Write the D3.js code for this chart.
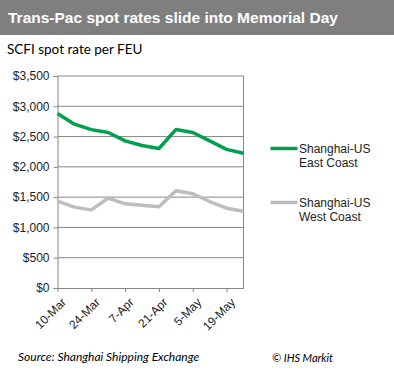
<!DOCTYPE html>
<html>
<head>
<meta charset="utf-8">
<script src="https://cdn.jsdelivr.net/npm/d3@7"></script>
<style>
    body { margin: 0; background: #fff; }
    svg { display: block; }
</style>
</head>
<body>
<svg id="chart" width="394" height="371"></svg>
<script>
// weekly SCFI readings, 10-Mar to 26-May
let weeks = ["10-Mar", "17-Mar", "24-Mar", "31-Mar", "7-Apr", "14-Apr", "21-Apr", "28-Apr", "5-May", "12-May", "19-May", "26-May"];
let tickWeeks = ["10-Mar", "24-Mar", "7-Apr", "21-Apr", "5-May", "19-May"];
let eastCoast = [2880, 2705, 2615, 2567, 2430, 2352, 2303, 2616, 2567, 2428, 2288, 2225];
let westCoast = [1434, 1335, 1290, 1483, 1390, 1368, 1340, 1604, 1555, 1428, 1318, 1268];
let yTicks = [0, 500, 1000, 1500, 2000, 2500, 3000, 3500];
let seriesNames = [["Shanghai-US", "East Coast"], ["Shanghai-US", "West Coast"]];
let seriesColors = ["#00a04e", "#bdbdbd"];

let svg = d3.select("#chart");
let font = "Arial, 'Liberation Sans', sans-serif";

// title banner
svg.append("rect")
    .attr("x", 0).attr("y", 0)
    .attr("width", 394).attr("height", 35)
    .attr("fill", "#7f7f7f");

svg.append("text")
    .text("Trans-Pac spot rates slide into Memorial Day")
    .attr("x", 8).attr("y", 23)
    .attr("font-family", font)
    .attr("font-weight", "bold")
    .attr("font-size", "15.5px")
    .attr("fill", "#fff");

svg.append("text")
    .text("SCFI spot rate per FEU")
    .attr("x", 7).attr("y", 54)
    .attr("font-family", "Lato, 'Open Sans', sans-serif")
    .attr("font-size", "13.5px")
    .attr("fill", "#000");

let plot = {left: 57.5, right: 243.5, top: 76, bottom: 288};

let x = d3.scalePoint()
    .domain(weeks)
    .range([plot.left, plot.right]);

let y = d3.scaleLinear()
    .domain([0, 3500])
    .range([plot.bottom, plot.top]);

// gridlines
svg.append("g")
    .selectAll("line")
    .data(yTicks.slice(1))
    .enter()
    .append("line")
    .attr("x1", plot.left).attr("x2", plot.right)
    .attr("y1", d => y(d)).attr("y2", d => y(d))
    .attr("stroke", "#868686")
    .attr("stroke-width", 1);

// right border of plot area
svg.append("line")
    .attr("x1", plot.right).attr("x2", plot.right)
    .attr("y1", plot.top).attr("y2", plot.bottom)
    .attr("stroke", "#868686");

// y axis
let yAxis = svg.append("g")
    .attr("transform", "translate(" + plot.left + ",0)")
    .call(d3.axisLeft(y)
        .tickValues(yTicks)
        .tickSize(4)
        .tickPadding(4)
        .tickFormat(d => "$" + d3.format(",")(d)));

// x axis
let xAxis = svg.append("g")
    .attr("transform", "translate(0," + plot.bottom + ")")
    .call(d3.axisBottom(x)
        .tickValues(tickWeeks)
        .tickSize(4)
        .tickSizeOuter(0));

xAxis.selectAll("text")
    .attr("text-anchor", "end")
    .attr("dx", 0)
    .attr("dy", 0)
    .attr("transform", "translate(4,10) rotate(-45)");

[yAxis, xAxis].forEach(function(a) {
    a.select(".domain").attr("stroke", "#868686");
    a.selectAll(".tick line").attr("stroke", "#868686");
    a.selectAll("text")
        .attr("font-family", font)
        .attr("font-size", "12px")
        .attr("fill", "#222");
});

// lines
let line = d3.line()
    .x((d, i) => x(weeks[i]))
    .y(d => y(d));

[westCoast, eastCoast].forEach(function(s, k) {
    svg.append("path")
        .datum(s)
        .attr("d", line)
        .attr("fill", "none")
        .attr("stroke", seriesColors[1 - k])
        .attr("stroke-width", 3.5)
        .attr("stroke-linejoin", "round");
});

// legend
let legendY = [148.5, 202.5];
seriesNames.forEach(function(names, i) {
    let g = svg.append("g");
    g.append("line")
        .attr("x1", 270.5).attr("x2", 297.5)
        .attr("y1", legendY[i]).attr("y2", legendY[i])
        .attr("stroke", seriesColors[i])
        .attr("stroke-width", 3.5);
    g.selectAll("text")
        .data(names)
        .enter()
        .append("text")
        .text(d => d)
        .attr("x", 299)
        .attr("y", (d, j) => legendY[i] + 4.5 + j * 13.5)
        .attr("font-family", font)
        .attr("font-size", "12px")
        .attr("fill", "#222");
});

// footer
svg.append("text")
    .text("Source: Shanghai Shipping Exchange")
    .attr("x", 18).attr("y", 361)
    .attr("font-family", "Lato, 'Open Sans', sans-serif")
    .attr("font-style", "italic")
    .attr("font-size", "12px")
    .attr("fill", "#000");

svg.append("text")
    .text("© IHS Markit")
    .attr("x", 272).attr("y", 362)
    .attr("font-family", "Lato, 'Open Sans', sans-serif")
    .attr("font-style", "italic")
    .attr("font-size", "11px")
    .attr("fill", "#000");
</script>
</body>
</html>
